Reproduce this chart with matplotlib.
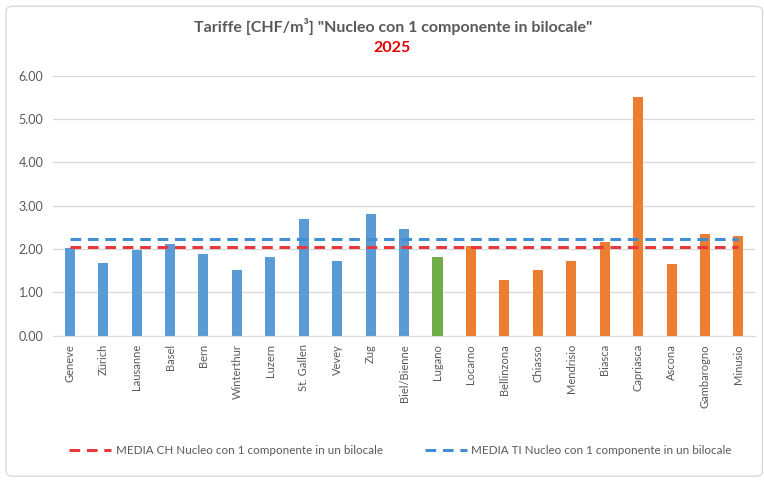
import numpy as np
import matplotlib
matplotlib.use("Agg")
from matplotlib import pyplot as plt
from matplotlib.patches import FancyBboxPatch

plt.rcParams['font.family'] = ['Lato', 'DejaVu Sans']

# dati
comuni = ["Geneve", "Zürich", "Lausanne", "Basel", "Bern", "Winterthur", "Luzern",
          "St. Gallen", "Vevey", "Zug", "Biel/Bienne", "Lugano", "Locarno",
          "Bellinzona", "Chiasso", "Mendrisio", "Biasca", "Capriasca", "Ascona",
          "Gambarogno", "Minusio"]
tariffe = [2.03, 1.69, 1.99, 2.11, 1.89, 1.52, 1.82, 2.69, 1.73, 2.80, 2.46,
           1.81, 2.08, 1.29, 1.52, 1.73, 2.16, 5.52, 1.65, 2.35, 2.30]
gruppo = ["CH"] * 11 + ["LUG"] + ["TI"] * 9
media_ch = 2.05
media_ti = 2.23

colori = {"CH": "#5B9BD5", "LUG": "#70AD47", "TI": "#ED7D31"}
grigio = "#595959"

fig = plt.figure(figsize=(7.64, 4.82), dpi=100)
# cornice del grafico
fig.patches.append(FancyBboxPatch((0.008, 0.012), 0.99, 0.975,
                                  boxstyle="round,pad=0,rounding_size=0.01",
                                  transform=fig.transFigure, fill=False,
                                  edgecolor="#d9d9d9", linewidth=1))

ax = fig.add_axes([0.0694, 0.3035, 0.919, 0.5392])
x = np.arange(len(comuni))
ax.bar(x, tariffe, width=0.3, color=[colori[g] for g in gruppo], zorder=2)

ax.plot(x, [media_ch] * len(x), color="#E8383D", linestyle=(0, (3.5, 2.2)),
        linewidth=2.2, zorder=3, label="MEDIA CH Nucleo con 1 componente in un bilocale")
ax.plot(x, [media_ti] * len(x), color="#3F8FD2", linestyle=(0, (3.5, 2.2)),
        linewidth=2.2, zorder=3, label="MEDIA TI Nucleo con 1 componente in un bilocale")

ax.set_xlim(-0.5, len(comuni) - 0.5)
ax.set_ylim(0, 6)
ax.set_yticks(np.arange(0, 7, 1))
ax.set_yticklabels([f"{v:.2f}" for v in np.arange(0, 7, 1)])
ax.set_xticks(x)
ax.set_xticklabels(comuni, rotation=90)
ax.tick_params(axis="y", length=0, labelsize=9, colors=grigio, pad=7)
ax.tick_params(axis="x", length=0, labelsize=8, colors=grigio, pad=6)
ax.grid(axis="y", color="#d9d9d9", linewidth=0.9, zorder=0)
for s in ["top", "right", "left"]:
    ax.spines[s].set_visible(False)
ax.spines["bottom"].set_color("#d9d9d9")

fig.text(0.515, 0.946, 'Tariffe [CHF/m³] "Nucleo con 1 componente in bilocale"',
         ha="center", va="center", fontsize=11.5, color=grigio, fontweight="bold")
fig.text(0.513, 0.9, "2025", ha="center", va="center", fontsize=11.5,
         color="#E00000", fontweight="bold")

handles, labels = ax.get_legend_handles_labels()
fig.legend(handles, labels, loc="center", bbox_to_anchor=(0.524, 0.066), ncol=2,
           frameon=False, fontsize=8.4, labelcolor=grigio, handlelength=3.6,
           handletextpad=0.4, columnspacing=3.6)

fig.savefig("out.png", dpi=100)
